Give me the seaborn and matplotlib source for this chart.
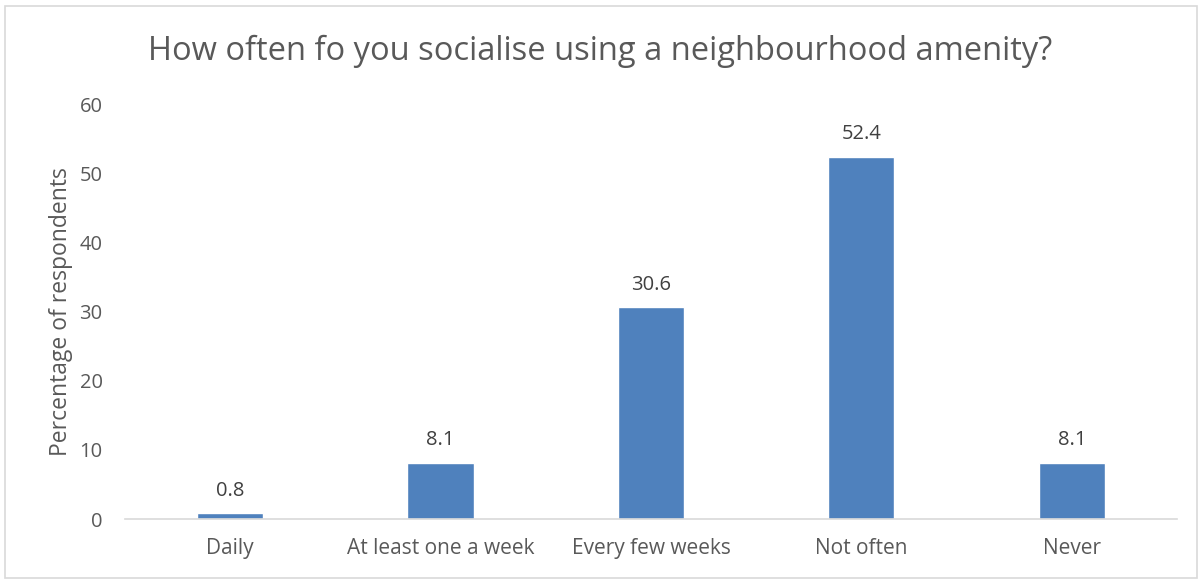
import matplotlib
matplotlib.use("Agg")
import matplotlib.pyplot as plt
import seaborn as sns
import pandas as pd
from matplotlib.patches import Rectangle

categories = ["Daily", "At least one a week", "Every few weeks", "Not often", "Never"]
values = [0.8, 8.1, 30.6, 52.4, 8.1]
yticks = [0, 10, 20, 30, 40, 50, 60]
title = "How often fo you socialise using a neighbourhood amenity?"
ylabel = "Percentage of respondents"

sns.set_theme(style="white")
plt.rcParams['font.family'] = ['Open Sans', 'DejaVu Sans']

df = pd.DataFrame({"cat": categories, "val": values})

fig = plt.figure(figsize=(12.01, 5.79), dpi=100)
ax = fig.add_axes([0.104, 0.1036, 0.876, 0.7167])
sns.barplot(data=df, x="cat", y="val", color="#4F81BD", saturation=1, width=0.314, ax=ax)

ax.set_ylim(0, 60)
ax.set_yticks(yticks)
ax.set_yticklabels([str(t) for t in yticks], fontsize=14.5, color="#595959")
ax.set_xticks(range(len(categories)))
ax.set_xticklabels(categories, fontsize=15, color="#595959")
ax.tick_params(axis='both', length=0)
ax.tick_params(axis='x', pad=14)
ax.tick_params(axis='y', pad=16)
ax.set_xlabel("")
ax.set_ylabel(ylabel, fontsize=16.5, color="#595959", labelpad=5)
for s in ["top", "right", "left"]:
    ax.spines[s].set_visible(False)
ax.spines["bottom"].set_color("#D9D9D9")
ax.spines["bottom"].set_linewidth(1.2)

for i, v in enumerate(values):
    ax.annotate(f"{v}", (i, v), xytext=(0, 9), textcoords="offset points",
                ha="center", va="bottom", fontsize=14.5, color="#404040")

fig.text(0.5, 0.912, title, ha="center", va="center", fontsize=23.5, color="#595959")
fig.patches.append(Rectangle((0.004, 0.002), 0.993, 0.988, transform=fig.transFigure,
                             fill=False, edgecolor="#D9D9D9", linewidth=1.2))

fig.savefig("out.png", dpi=100)
